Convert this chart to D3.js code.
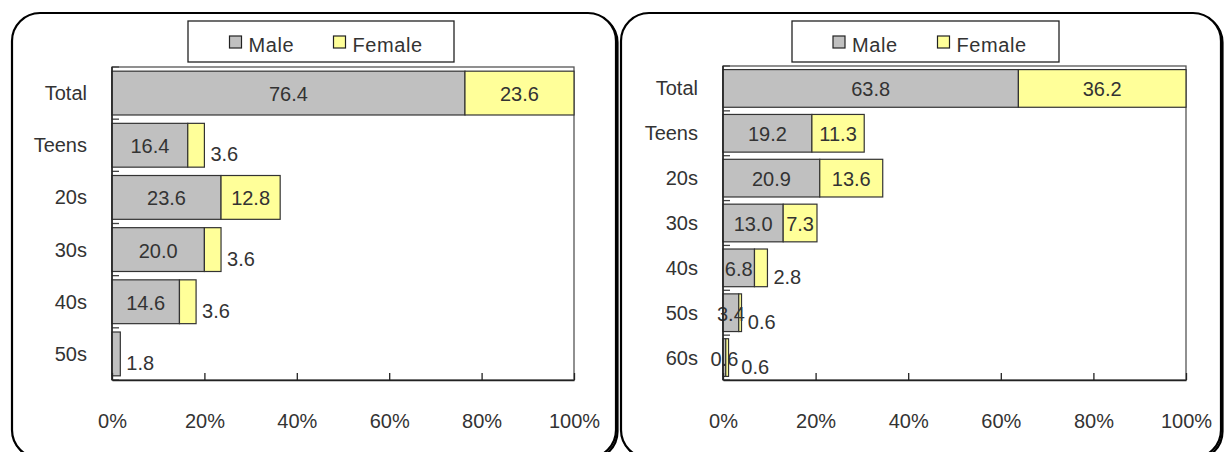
<!DOCTYPE html>
<html>
<head>
<meta charset="utf-8">
<script src="https://cdn.jsdelivr.net/npm/d3@7"></script>
<style>
  html, body { margin: 0; padding: 0; background: #fff; }
  svg { display: block; }
  text { font-family: "Liberation Sans", Arial, sans-serif; fill: #333; }
</style>
</head>
<body>
<svg id="chart" width="1224" height="452"></svg>
<script>
// Share of respondents by age group and sex (percent of all respondents)
const seriesNames = ["Male", "Female"];
const seriesColors = ["#C0C0C0", "#FFFF99"];
const tickValues = [0, 20, 40, 60, 80, 100];

const groupsLeft = ["Total", "Teens", "20s", "30s", "40s", "50s"];
const maleLeft = [76.4, 16.4, 23.6, 20.0, 14.6, 1.8];
const femaleLeft = [23.6, 3.6, 12.8, 3.6, 3.6, 0];

const groupsRight = ["Total", "Teens", "20s", "30s", "40s", "50s", "60s"];
const maleRight = [63.8, 19.2, 20.9, 13.0, 6.8, 3.4, 0.6];
const femaleRight = [36.2, 11.3, 13.6, 7.3, 2.8, 0.6, 0.6];

const svg = d3.select("#chart");
const fmt = d3.format(".1f");
const FONT = 20;
const TEXT_COLOR = "#333";

// rough text width for label placement
const measurer = svg.append("text").attr("font-size", FONT).attr("visibility", "hidden");
function textWidth(s) {
  measurer.text(s);
  return measurer.node().getComputedTextLength();
}

function drawPanel(cfg) {
  const g = svg.append("g");

  // rounded frame with a slight drop shadow on the right/bottom edges
  g.append("rect")
    .attr("x", cfg.frame[0] + 1.5).attr("y", cfg.frame[1] + 1.5)
    .attr("width", cfg.frame[2] - cfg.frame[0]).attr("height", cfg.frame[3] - cfg.frame[1])
    .attr("rx", 28).attr("ry", 28)
    .attr("fill", "none").attr("stroke", "#000").attr("stroke-width", 2.2);
  g.append("rect")
    .attr("x", cfg.frame[0]).attr("y", cfg.frame[1])
    .attr("width", cfg.frame[2] - cfg.frame[0]).attr("height", cfg.frame[3] - cfg.frame[1])
    .attr("rx", 28).attr("ry", 28)
    .attr("fill", "#fff").attr("stroke", "#000").attr("stroke-width", 2.2);

  const x = d3.scaleLinear().domain([0, 100]).range([cfg.left, cfg.right]);
  const y = d3.scaleBand().domain(cfg.groups).range([cfg.top, cfg.bottom])
    .paddingInner(0.16).paddingOuter(0.08);

  // plot area outline
  g.append("rect")
    .attr("x", cfg.left).attr("y", cfg.top)
    .attr("width", cfg.right - cfg.left).attr("height", cfg.bottom - cfg.top)
    .attr("fill", "none").attr("stroke", "#555").attr("stroke-width", 1.3);

  // stacked data
  const rows = cfg.groups.map((name, i) => ({ name, values: [cfg.male[i], cfg.female[i]] }));
  const stack = d3.stack().keys([0, 1]).value((d, k) => d.values[k]);
  const layers = stack(rows);

  layers.forEach((layer, k) => {
    g.append("g").selectAll("rect")
      .data(layer.filter(d => d[1] - d[0] > 0))
      .join("rect")
      .attr("x", d => x(d[0]))
      .attr("y", d => y(d.data.name))
      .attr("width", d => x(d[1]) - x(d[0]))
      .attr("height", y.bandwidth())
      .attr("fill", seriesColors[k])
      .attr("stroke", "#333")
      .attr("stroke-width", 1.2);
  });

  // value labels: centred in the segment; a narrow final segment gets its label beside the bar
  rows.forEach((row, i) => {
    let prevRight = -Infinity;
    const lastIdx = row.values[1] > 0 ? 1 : 0;
    [0, 1].forEach(k => {
      const d = layers[k][i];
      const v = row.values[k];
      if (v <= 0) return;
      const label = fmt(v);
      const w = textWidth(label);
      const x0 = x(d[0]), x1 = x(d[1]);
      const cy = y(row.name) + y.bandwidth() / 2;
      let tx, ty, anchor;
      if (k === lastIdx && (x1 - x0) < w + 4) {
        tx = Math.max(x1 + 6, prevRight + 3);
        ty = cy + 9;
        anchor = "start";
        prevRight = tx + w;
      } else {
        tx = (x0 + x1) / 2;
        ty = cy + 1;
        anchor = "middle";
        prevRight = tx + w / 2;
      }
      g.append("text")
        .attr("x", tx).attr("y", ty)
        .attr("text-anchor", anchor)
        .attr("dominant-baseline", "central")
        .attr("font-size", FONT)
        .text(label);
    });
  });

  // category axis: inside tick marks at the band boundaries, labels to the left
  const step = y.step();
  const boundaries = d3.range(cfg.groups.length + 1).map(i => y(cfg.groups[0]) - y.paddingInner() * step / 2 + i * step);
  g.append("g").selectAll("line")
    .data(boundaries)
    .join("line")
    .attr("x1", cfg.left).attr("x2", cfg.left + 7)
    .attr("y1", d => d).attr("y2", d => d)
    .attr("stroke", "#444").attr("stroke-width", 1.3);
  g.append("line")
    .attr("x1", cfg.left).attr("x2", cfg.left)
    .attr("y1", cfg.top).attr("y2", cfg.bottom)
    .attr("stroke", "#222").attr("stroke-width", 1.5);
  g.append("g").selectAll("text")
    .data(cfg.groups)
    .join("text")
    .attr("x", cfg.left - 25)
    .attr("y", d => y(d) + y.bandwidth() / 2)
    .attr("text-anchor", "end")
    .attr("dominant-baseline", "central")
    .attr("font-size", FONT)
    .text(d => d);

  // value axis at the bottom with upward ticks
  const xAxis = d3.axisBottom(x)
    .tickValues(tickValues)
    .tickFormat(d => d + "%")
    .tickSizeInner(-7)
    .tickSizeOuter(0)
    .tickPadding(34);
  const ax = g.append("g").attr("transform", `translate(0,${cfg.bottom})`).call(xAxis);
  ax.select(".domain").attr("stroke", "#222").attr("stroke-width", 1.5);
  ax.selectAll(".tick line").attr("stroke", "#222").attr("stroke-width", 1.3);
  ax.selectAll(".tick text")
    .attr("font-size", FONT)
    .attr("font-family", "Liberation Sans, Arial, sans-serif")
    .attr("fill", TEXT_COLOR);

  // legend
  const lg = g.append("g");
  lg.append("rect")
    .attr("x", cfg.legend.x).attr("y", 21)
    .attr("width", cfg.legend.w).attr("height", 41)
    .attr("fill", "#fff").attr("stroke", "#222").attr("stroke-width", 1.3);
  seriesNames.forEach((name, k) => {
    const sx = cfg.legend.items[k];
    lg.append("rect")
      .attr("x", sx).attr("y", 36).attr("width", 12).attr("height", 12)
      .attr("fill", seriesColors[k]).attr("stroke", "#222").attr("stroke-width", 1.2);
    lg.append("text")
      .attr("x", sx + 19).attr("y", 45)
      .attr("dominant-baseline", "central")
      .attr("font-size", FONT)
      .attr("letter-spacing", 0.6)
      .text(name);
  });
}

drawPanel({
  frame: [12, 13, 616, 458],
  left: 112, right: 574, top: 67, bottom: 380,
  groups: groupsLeft, male: maleLeft, female: femaleLeft,
  legend: { x: 188, w: 266, items: [229.5, 333.5] }
});

drawPanel({
  frame: [621, 13, 1221, 458],
  left: 723, right: 1186, top: 66, bottom: 380,
  groups: groupsRight, male: maleRight, female: femaleRight,
  legend: { x: 792, w: 267, items: [833, 937.5] }
});

measurer.remove();
</script>
</body>
</html>
